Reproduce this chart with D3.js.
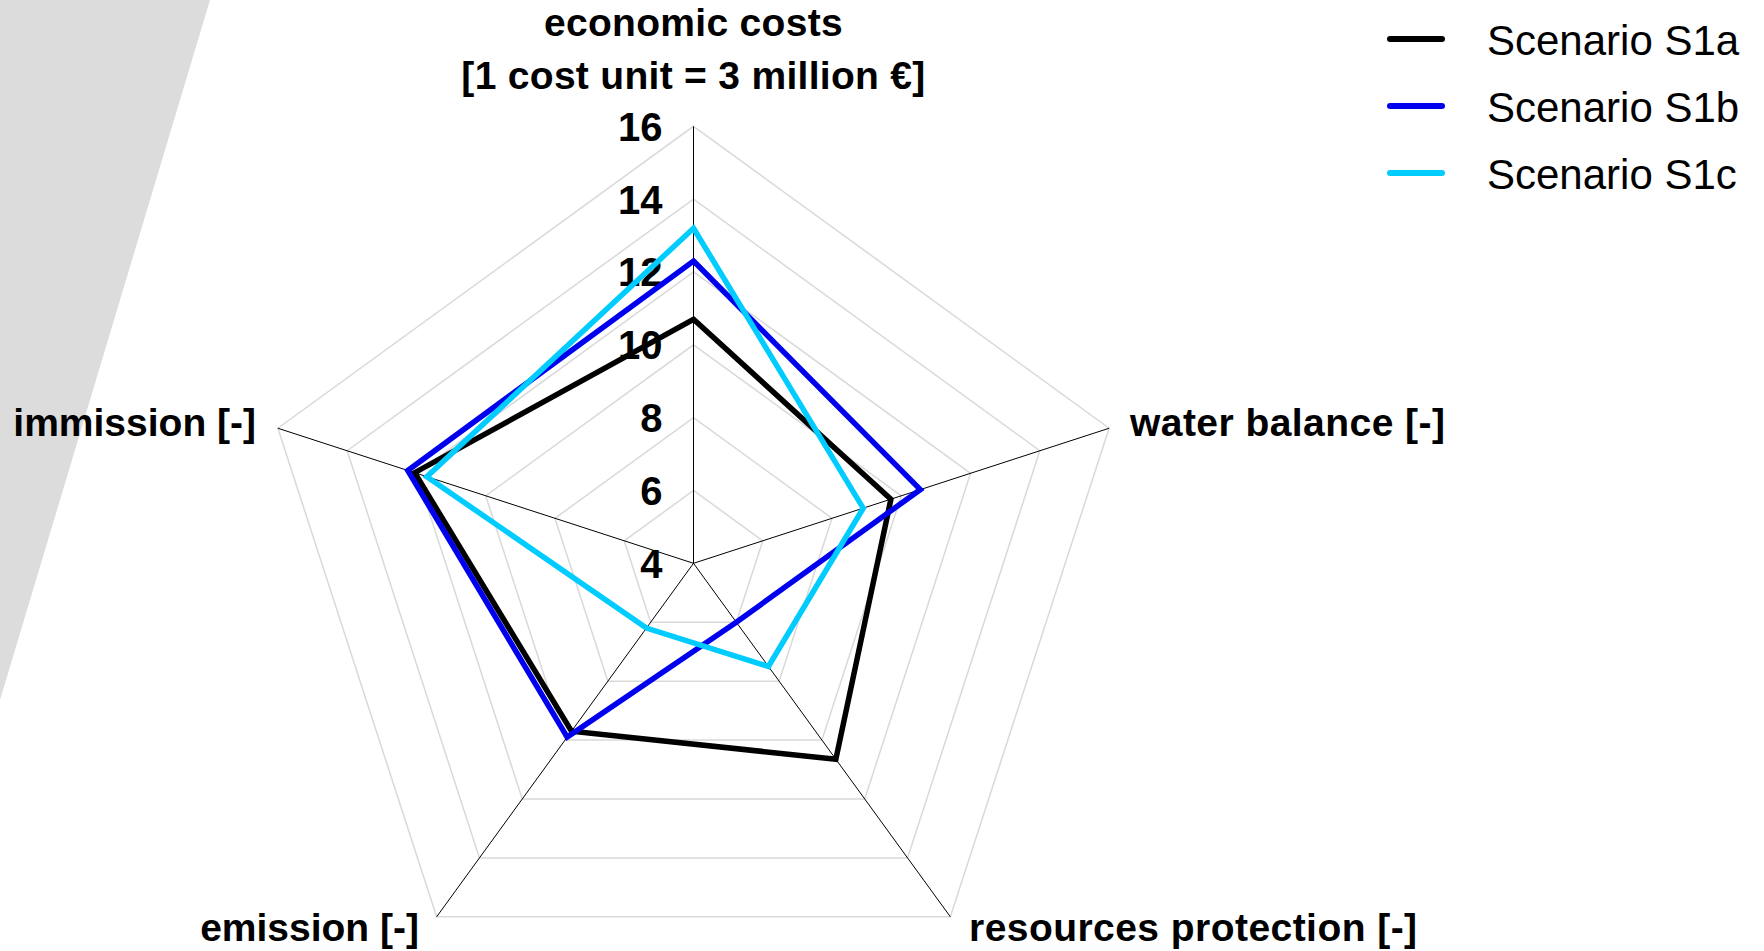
<!DOCTYPE html>
<html>
<head>
<meta charset="utf-8">
<script src="https://cdn.jsdelivr.net/npm/d3@7"></script>
<style>
  html, body { margin: 0; padding: 0; background: #ffffff; }
  svg { display: block; font-family: "Liberation Sans", Arial, sans-serif; }
</style>
</head>
<body>
<svg id="chart" width="1764" height="951"></svg>
<script>
// ---- data ----
const axes = ["economic costs", "water balance [-]", "resources protection [-]", "emission [-]", "immission [-]"];
const titleLines = ["economic costs", "[1 cost unit = 3 million \u20ac]"];
const ticks = [4, 6, 8, 10, 12, 14, 16];
const seriesNames = ["Scenario S1a", "Scenario S1b", "Scenario S1c"];
const seriesColors = ["#000000", "#0000ee", "#00ccff"];
const s1a = [10.7, 9.7, 10.65, 9.7, 12.05];
const s1b = [12.3, 10.55, 6.0, 9.9, 12.25];
const s1c = [13.2, 8.9, 7.5, 6.2, 11.7];
const seriesValues = [s1a, s1b, s1c];

// ---- layout ----
const W = 1764, H = 951;
const cx = 693.5, cy = 563.3, R = 437;
const svg = d3.select("#chart");

// background decorative shape
svg.append("path")
  .attr("d", d3.line()([[0, 0], [210, 0], [0, 700]]) + "Z")
  .attr("fill", "#dcdcdc");

const g = svg.append("g").attr("transform", `translate(${cx},${cy})`);
const r = d3.scaleLinear().domain([4, 16]).range([0, R]);
const angle = d3.scaleLinear().domain([0, axes.length]).range([0, 2 * Math.PI]);
const pt = (i, v) => [Math.sin(angle(i)) * r(v), -Math.cos(angle(i)) * r(v)];

// grid rings
ticks.slice(1).forEach(t => {
  g.append("path")
    .attr("d", d3.line()(axes.map((a, i) => pt(i, t))) + "Z")
    .attr("fill", "none")
    .attr("stroke", "#d9d9d9")
    .attr("stroke-width", 1.5);
});

// axis spokes
axes.forEach((a, i) => {
  const p = pt(i, 16);
  g.append("line")
    .attr("x1", 0).attr("y1", 0)
    .attr("x2", p[0]).attr("y2", p[1])
    .attr("stroke", "#000").attr("stroke-width", 1);
});

// tick labels
g.selectAll("text.tick").data(ticks).join("text")
  .attr("class", "tick")
  .attr("x", -31)
  .attr("y", d => -r(d))
  .attr("dy", "0.36em")
  .attr("text-anchor", "end")
  .attr("font-size", 40)
  .attr("font-weight", "bold")
  .text(d => d);

// series
const radial = d3.lineRadial()
  .angle((d, i) => angle(i))
  .radius(d => r(d))
  .curve(d3.curveLinearClosed);
seriesValues.forEach((vals, k) => {
  g.append("path")
    .attr("d", radial(vals))
    .attr("fill", "none")
    .attr("stroke", seriesColors[k])
    .attr("stroke-width", 5.5)
    .attr("stroke-linejoin", "miter");
});

// title (top axis label)
svg.selectAll("text.title").data(titleLines).join("text")
  .attr("class", "title")
  .attr("x", cx)
  .attr("y", (d, i) => 36 + i * 53)
  .attr("text-anchor", "middle")
  .attr("font-size", 39)
  .attr("font-weight", "bold")
  .attr("letter-spacing", 0.3)
  .text(d => d);

// other axis labels
const labelPos = [
  null,
  { x: 1130, y: 436, anchor: "start", ls: 0.45 },
  { x: 969, y: 941, anchor: "start", ls: 0.45 },
  { x: 419, y: 941, anchor: "end", ls: 0 },
  { x: 256, y: 436, anchor: "end", ls: 0 }
];
axes.forEach((a, i) => {
  if (!labelPos[i]) return;
  svg.append("text")
    .attr("x", labelPos[i].x)
    .attr("y", labelPos[i].y)
    .attr("text-anchor", labelPos[i].anchor)
    .attr("font-size", 39)
    .attr("font-weight", "bold")
    .attr("letter-spacing", labelPos[i].ls)
    .text(a);
});

// legend
const legend = svg.append("g").attr("transform", "translate(1390,39)");
seriesNames.forEach((name, k) => {
  const y = k * 67;
  legend.append("line")
    .attr("x1", 0).attr("x2", 52)
    .attr("y1", y).attr("y2", y)
    .attr("stroke", seriesColors[k])
    .attr("stroke-width", 6)
    .attr("stroke-linecap", "round");
  legend.append("text")
    .attr("x", 97)
    .attr("y", y + 16)
    .attr("font-size", 42)
    .text(name);
});
</script>
</body>
</html>
